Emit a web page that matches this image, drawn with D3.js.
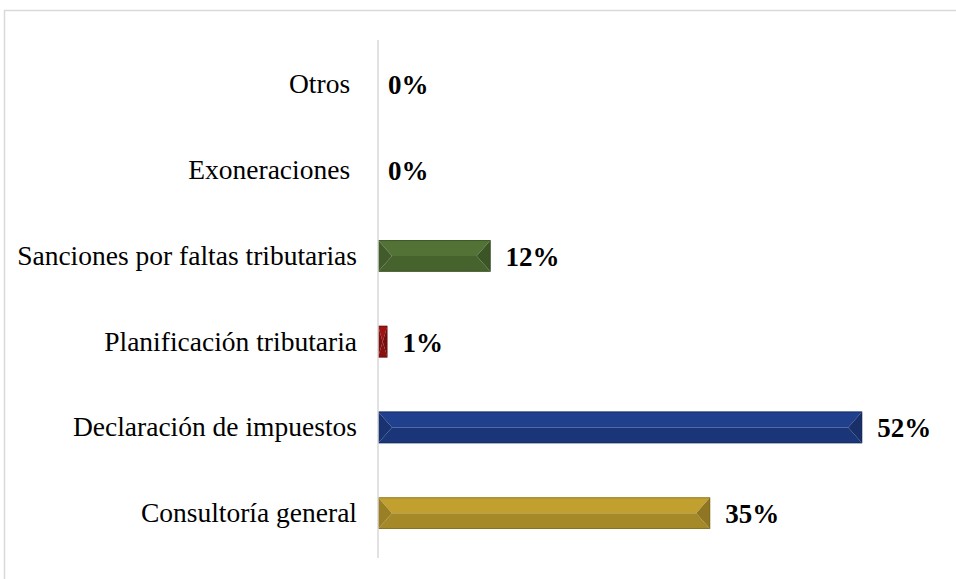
<!DOCTYPE html>
<html>
<head>
<meta charset="utf-8">
<script src="https://cdn.jsdelivr.net/npm/d3@7"></script>
<style>
  html, body { margin: 0; padding: 0; background: #fff; }
  svg text { white-space: pre; }
</style>
</head>
<body>
<div id="chart"></div>
<script>
// Categories, top to bottom
const categories = ["Otros ", "Exoneraciones ", "Sanciones por faltas tributarias",
    "Planificación tributaria", "Declaración de impuestos", "Consultoría general"];
// Share of answers (fraction)
const values = [0, 0, 0.12, 0.01, 0.516, 0.354];
// Base colour of each bar
const barColors = [null, null, "#4f6f33", "#9a1212", "#1f3d88", "#bb9a2d"];

const width = 956, height = 579;
const serif = '"Liberation Serif", "Times New Roman", Times, serif';

const svg = d3.select('#chart')
    .append('svg')
    .attr('width', width)
    .attr('height', height);

// Frame (top and left edge only)
svg.append('path')
    .attr('d', `M4.5,${height} L4.5,10.5 L${width},10.5`)
    .attr('fill', 'none')
    .attr('stroke', '#d9d9d9')
    .attr('stroke-width', 1.5);

const x = d3.scaleLinear().domain([0, 0.6]).range([378, 378 + 563]);
const y = d3.scaleBand()
    .domain(categories)
    .range([41.6, 556])
    .paddingInner(0.63)
    .paddingOuter(0.315);

const data = categories.map((c, i) => ({ name: c, value: values[i], color: barColors[i] }));

// Beveled bars
const bars = svg.selectAll('.bar')
    .data(data.filter(d => d.value > 0))
    .enter()
    .append('g')
    .attr('class', 'bar');

bars.each(function(d) {
    const g = d3.select(this);
    const x0 = x(0), x1 = x(d.value);
    const y0 = y(d.name), y1 = y0 + y.bandwidth(), ym = (y0 + y1) / 2;
    const b = Math.min(14, (x1 - x0) / 2);
    const c = d3.color(d.color);
    const pts = p => p.map(q => q.join(',')).join(' ');
    // top face
    g.append('polygon')
        .attr('points', pts([[x0, y0], [x1, y0], [x1 - b, ym], [x0 + b, ym]]))
        .attr('fill', c.brighter(0.1));
    // bottom face
    g.append('polygon')
        .attr('points', pts([[x0 + b, ym], [x1 - b, ym], [x1, y1], [x0, y1]]))
        .attr('fill', c.darker(0.35));
    // left end
    g.append('polygon')
        .attr('points', pts([[x0, y0], [x0 + b, ym], [x0, y1]]))
        .attr('fill', c.darker(0.55));
    // right end
    g.append('polygon')
        .attr('points', pts([[x1, y0], [x1, y1], [x1 - b, ym]]))
        .attr('fill', c.darker(0.75));
    // outline
    g.append('rect')
        .attr('x', x0 + 0.5).attr('y', y0 + 0.5)
        .attr('width', x1 - x0 - 1).attr('height', y1 - y0 - 1)
        .attr('fill', 'none')
        .attr('stroke', c.darker(1.2))
        .attr('stroke-opacity', 0.6);
});

// Category axis line
svg.append('line')
    .attr('x1', x(0)).attr('x2', x(0))
    .attr('y1', 40).attr('y2', 558)
    .attr('stroke', '#d9d9d9')
    .attr('stroke-width', 1.5);

// Category labels
svg.selectAll('.cat')
    .data(data)
    .enter()
    .append('text')
    .attr('class', 'cat')
    .attr('x', 357)
    .attr('y', d => y(d.name) + y.bandwidth() / 2 + 9)
    .attr('text-anchor', 'end')
    .attr('font-family', serif)
    .attr('font-size', 27.5)
    .attr('fill', '#000')
    .text(d => d.name);

// Value labels
const fmt = d3.format('.0%');
svg.selectAll('.val')
    .data(data)
    .enter()
    .append('text')
    .attr('class', 'val')
    .attr('x', d => x(d.value) + (d.value > 0 ? 15 : 10))
    .attr('y', d => y(d.name) + y.bandwidth() / 2 + 10)
    .attr('font-family', serif)
    .attr('font-size', 27)
    .attr('font-weight', 'bold')
    .attr('fill', '#000')
    .text(d => fmt(d.value));
</script>
</body>
</html>
